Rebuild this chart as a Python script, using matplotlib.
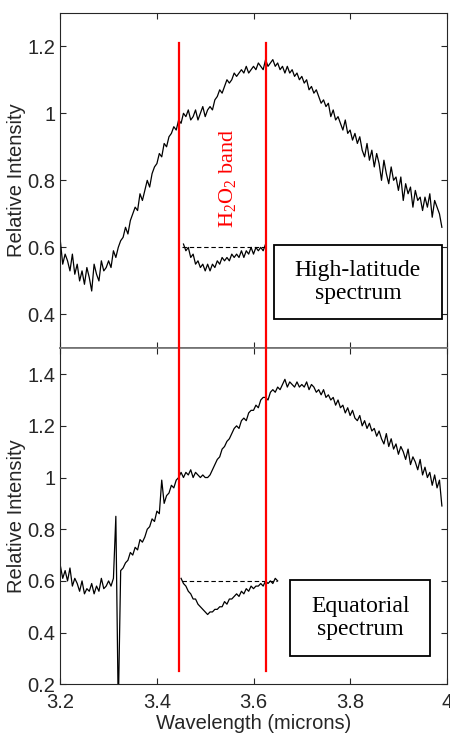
import numpy as np
import matplotlib
matplotlib.use("Agg")
import matplotlib.pyplot as plt
from matplotlib.patches import Rectangle

high_lat = [
    0.62, 0.55, 0.58, 0.56, 0.53, 0.58, 0.52, 0.55, 0.50, 0.53,
    0.49, 0.54, 0.51, 0.47, 0.55, 0.52, 0.50, 0.56, 0.53, 0.54,
    0.56, 0.54, 0.59, 0.57, 0.60, 0.62, 0.63, 0.66, 0.64, 0.68,
    0.70, 0.72, 0.71, 0.76, 0.74, 0.77, 0.80, 0.78, 0.82, 0.84,
    0.85, 0.88, 0.87, 0.91, 0.90, 0.93, 0.94, 0.96, 0.95, 0.98,
    0.97, 1.00, 0.99, 1.01, 0.98, 0.99, 1.01, 0.98, 1.00, 1.02,
    0.99, 1.01, 1.02, 1.01, 1.04, 1.05, 1.07, 1.06, 1.08, 1.10,
    1.09, 1.10, 1.12, 1.11, 1.12, 1.13, 1.12, 1.14, 1.12, 1.13,
    1.14, 1.13, 1.15, 1.14, 1.13, 1.16, 1.14, 1.15, 1.16, 1.14,
    1.15, 1.13, 1.14, 1.12, 1.14, 1.12, 1.13, 1.11, 1.12, 1.10,
    1.11, 1.09, 1.10, 1.07, 1.08, 1.06, 1.07, 1.05, 1.03, 1.04,
    1.02, 1.03, 0.99, 1.01, 0.98, 0.99, 0.97, 0.95, 0.98, 0.94,
    0.95, 0.92, 0.94, 0.91, 0.93, 0.89, 0.87, 0.91, 0.86, 0.89,
    0.84, 0.88, 0.85, 0.80, 0.86, 0.82, 0.79, 0.84, 0.80, 0.81,
    0.77, 0.81, 0.74, 0.79, 0.76, 0.78, 0.72, 0.77, 0.74, 0.75,
    0.71, 0.75, 0.72, 0.76, 0.69, 0.74, 0.72, 0.70, 0.66,
]
equatorial = [
    0.66, 0.61, 0.64, 0.60, 0.65, 0.58, 0.61, 0.59, 0.56, 0.60,
    0.55, 0.57, 0.56, 0.59, 0.55, 0.58, 0.56, 0.61, 0.57, 0.58,
    0.60, 0.58, 0.61, 0.85, 0.10, 0.64, 0.65, 0.67, 0.68, 0.71,
    0.70, 0.73, 0.72, 0.76, 0.75, 0.77, 0.80, 0.81, 0.84, 0.83,
    0.87, 0.86, 0.99, 0.90, 0.93, 0.94, 0.97, 0.96, 0.99, 1.00,
    1.02, 1.00, 1.02, 1.01, 1.03, 1.00, 1.02, 1.01, 1.00, 1.01,
    1.00, 1.00, 1.01, 1.03, 1.05, 1.07, 1.08, 1.11, 1.12, 1.14,
    1.15, 1.17, 1.19, 1.20, 1.19, 1.22, 1.23, 1.22, 1.25, 1.26,
    1.26, 1.28, 1.27, 1.30, 1.31, 1.31, 1.30, 1.33, 1.34, 1.33,
    1.35, 1.34, 1.36, 1.38, 1.35, 1.37, 1.36, 1.35, 1.37, 1.35,
    1.36, 1.35, 1.37, 1.34, 1.36, 1.35, 1.33, 1.34, 1.32, 1.34,
    1.31, 1.32, 1.30, 1.31, 1.28, 1.30, 1.27, 1.28, 1.25, 1.27,
    1.24, 1.26, 1.23, 1.22, 1.24, 1.20, 1.22, 1.19, 1.21, 1.18,
    1.19, 1.16, 1.18, 1.15, 1.13, 1.17, 1.12, 1.15, 1.11, 1.13,
    1.09, 1.12, 1.10, 1.07, 1.11, 1.05, 1.08, 1.06, 1.03, 1.07,
    1.01, 1.04, 1.00, 1.02, 0.97, 1.01, 0.96, 0.99, 0.89,
]
wl = np.round(3.2 + 0.005 * np.arange(len(high_lat)), 3)

# continuum-removed band shapes (insets), sampled every 0.005 micron
high_lat_band = [
    0.61, 0.59, 0.60, 0.57, 0.58, 0.55, 0.56, 0.54, 0.55, 0.53,
    0.55, 0.53, 0.55, 0.54, 0.56, 0.55, 0.57, 0.56, 0.57, 0.56,
    0.58, 0.57, 0.58, 0.57, 0.59, 0.57, 0.59, 0.58, 0.60, 0.58,
    0.60, 0.59, 0.60, 0.59, 0.61,
]
wl_band_hl = np.round(3.455 + 0.005 * np.arange(len(high_lat_band)), 3)
equatorial_band = [
    0.61, 0.59, 0.58, 0.56, 0.55, 0.53, 0.53, 0.51, 0.50, 0.49,
    0.48, 0.47, 0.48, 0.48, 0.49, 0.49, 0.50, 0.50, 0.52, 0.51,
    0.53, 0.53, 0.54, 0.55, 0.54, 0.56, 0.55, 0.57, 0.56, 0.58,
    0.57, 0.58, 0.58, 0.59, 0.58, 0.60, 0.59, 0.60, 0.59, 0.61,
    0.60,
]
wl_band_eq = np.round(3.45 + 0.005 * np.arange(len(equatorial_band)), 3)

band_edges = [3.446, 3.626]
continuum_hl = [3.452, 3.627]
continuum_eq = [3.452, 3.648]

plt.rcParams['font.family'] = ['Liberation Sans', 'DejaVu Sans']
plt.rcParams['mathtext.fontset'] = 'custom'
plt.rcParams['mathtext.rm'] = 'Liberation Serif'
plt.rcParams['mathtext.it'] = 'Liberation Serif:italic'
axcol = '#262626'

fig = plt.figure(figsize=(4.5, 7.37), dpi=100)
ax1 = fig.add_axes([0.134, 0.5278, 0.8587, 0.455])
ax2 = fig.add_axes([0.134, 0.0715, 0.8587, 0.4559])

for ax in (ax1, ax2):
    ax.set_xlim(3.2, 4.0)
    ax.set_xticks([3.2, 3.4, 3.6, 3.8, 4.0])
    ax.tick_params(direction='in', top=True, right=True, length=4,
                   width=0.8, color=axcol, labelcolor=axcol, labelsize=14.5)
    ax.tick_params(axis='x', pad=6.5)
    for s in ax.spines.values():
        s.set_color(axcol)
        s.set_linewidth(0.8)
    ax.set_ylabel('Relative Intensity', fontsize=14.5, color=axcol, labelpad=1)

ax1.set_ylim(0.3, 1.3)
ax1.set_yticks([0.4, 0.6, 0.8, 1.0, 1.2])
ax1.set_yticklabels(['0.4', '0.6', '0.8', '1', '1.2'])
ax1.tick_params(labelbottom=False)
ax1.spines['bottom'].set_color('#707070')
ax1.spines['bottom'].set_linewidth(1.2)

ax2.set_ylim(0.2, 1.5)
ax2.set_yticks([0.2, 0.4, 0.6, 0.8, 1.0, 1.2, 1.4])
ax2.set_yticklabels(['0.2', '0.4', '0.6', '0.8', '1', '1.2', '1.4'])
ax2.set_xticklabels(['3.2', '3.4', '3.6', '3.8', '4'])
ax2.spines['top'].set_color('#707070')
ax2.spines['top'].set_linewidth(1.2)
ax2.set_xlabel('Wavelength (microns)', fontsize=14.5, color=axcol, labelpad=1)

ax1.plot(wl, high_lat, color='black', lw=0.9)
ax1.plot(wl_band_hl, high_lat_band, color='black', lw=0.9)
ax1.plot(continuum_hl, [0.6, 0.6], color='black', lw=0.8, ls=(0, (4, 2.5)))

ax2.plot(wl, equatorial, color='black', lw=0.9)
ax2.plot(wl_band_eq, equatorial_band, color='black', lw=0.9)
ax2.plot(continuum_eq, [0.6, 0.6], color='black', lw=0.8, ls=(0, (4, 2.5)))

for xe in band_edges:
    ax1.plot([xe, xe], [1.21, 0.3], color='red', lw=1.6, clip_on=False, zorder=5)
    ax2.plot([xe, xe], [1.5, 0.25], color='red', lw=1.6, clip_on=False, zorder=5)

ax1.text(3.547, 0.806, 'H$_2$O$_2$ band', rotation=90, color='red',
         ha='center', va='center', fontsize=16, family='Liberation Serif')

ax1.add_patch(Rectangle((0.553, 0.0865), 0.435, 0.2205, transform=ax1.transAxes,
                        facecolor='white', edgecolor='black', lw=1.3, zorder=6))
ax1.text(0.77, 0.197, 'High-latitude\nspectrum', transform=ax1.transAxes,
         ha='center', va='center', fontsize=17, family='Liberation Serif',
         linespacing=1.1, zorder=7)

ax2.add_patch(Rectangle((0.594, 0.085), 0.363, 0.225, transform=ax2.transAxes,
                        facecolor='white', edgecolor='black', lw=1.3, zorder=6))
ax2.text(0.776, 0.197, 'Equatorial\nspectrum', transform=ax2.transAxes,
         ha='center', va='center', fontsize=17, family='Liberation Serif',
         linespacing=1.1, zorder=7)

fig.savefig('out.png', dpi=100)
